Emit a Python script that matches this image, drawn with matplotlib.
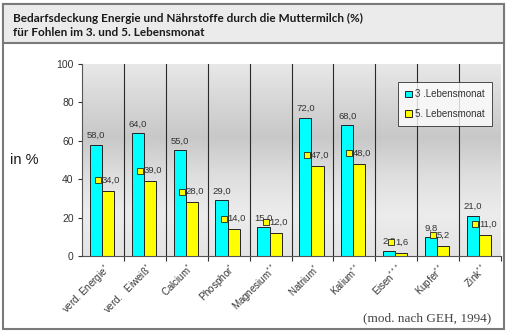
import numpy as np
import matplotlib.pyplot as plt
from matplotlib.colors import LinearSegmentedColormap
from matplotlib.patches import Rectangle

categories = [r"verd. Energie$^{*}$", r"verd.   Eiweiß$^{*}$", r"Calcium$^{*}$",
              r"Phosphor$^{*}$", r"Magnesium$^{**}$", r"Natrium$^{*}$",
              r"Kalium$^{**}$", r"Eisen$^{***}$", r"Kupfer$^{**}$", r"Zink$^{**}$"]
month3 = [58.0, 64.0, 55.0, 29.0, 15.0, 72.0, 68.0, 2.8, 9.8, 21.0]
month5 = [34.0, 39.0, 28.0, 14.0, 12.0, 47.0, 48.0, 1.6, 5.2, 11.0]
series_names = ["3 .Lebensmonat", "5. Lebensmonat"]
yticks = [0, 20, 40, 60, 80, 100]

CYAN = "#00ffff"
YELLOW = "#ffff00"
TXT = "#333333"

plt.rcParams['font.family'] = ['Liberation Sans', 'DejaVu Sans']
plt.rcParams['mathtext.fontset'] = 'custom'
plt.rcParams['mathtext.rm'] = 'Liberation Sans'

fig = plt.figure(figsize=(5.1, 3.34), dpi=100)
W, H = 510, 334

# outer frame and header band (behind the axes)
fig.patches.append(Rectangle((3 / W, 1 - 329 / H), 501 / W, 325 / H, transform=fig.transFigure,
                             facecolor='white', edgecolor='#7a7a7a', lw=1.5, zorder=-2))
fig.patches.append(Rectangle((3 / W, 1 - 43 / H), 501 / W, 39 / H, transform=fig.transFigure,
                             facecolor='#ebebeb', edgecolor='#7a7a7a', lw=1.5, zorder=-1))
fig.text(13 / W, 1 - 18 / H, "Bedarfsdeckung Energie und Nährstoffe durch die Muttermilch (%)",
         fontsize=8.5, fontweight='bold', family='Lato', va='center', color='#1a1a1a')
fig.text(13 / W, 1 - 32 / H, "für Fohlen im 3. und 5. Lebensmonat",
         fontsize=8.5, fontweight='bold', family='Lato', va='center', color='#1a1a1a')

ax = fig.add_axes([82 / W, 1 - 256 / H, 419 / W, 192 / H])
x = np.arange(len(categories))
xmin, xmax = -0.5, len(categories) - 0.5

# gradient background (bottom -> top)
cmap = LinearSegmentedColormap.from_list('bg', [
    (0.0, '#e4e4e4'), (0.22, '#ececec'), (0.42, '#dedede'),
    (0.62, '#c8c8c8'), (0.82, '#d8d8d8'), (1.0, '#e8e8e8')])
grad = np.linspace(0, 1, 256).reshape(-1, 1)
ax.imshow(grad, extent=[xmin, xmax, 0, 100], aspect='auto', cmap=cmap,
          origin='lower', zorder=0)

for b in np.arange(xmin + 1, xmax, 1.0):
    ax.axvline(b, color='#2a2a2a', lw=0.8, zorder=1)

bw = 0.29
x3 = x - 0.17
x5 = x + 0.12
ax.bar(x3, month3, bw, color=CYAN, edgecolor='#222222', lw=0.7, zorder=2, label=series_names[0])
ax.bar(x5, month5, bw, color=YELLOW, edgecolor='#222222', lw=0.7, zorder=2, label=series_names[1])

def fmt(v):
    return f"{v:.1f}".replace('.', ',')

for xi, v in zip(x3, month3):
    ax.text(xi, v + 2.5, fmt(v), ha='center', va='bottom', fontsize=6.8, color=TXT, zorder=4)
for xi, v in zip(x5, month5):
    ax.plot(xi - 0.24, v + 5.5, 's', ms=3.8, mfc=YELLOW, mec='#222222', mew=0.6, zorder=4)
    ax.text(xi - 0.15, v + 5.5, fmt(v), ha='left', va='center', fontsize=6.8, color=TXT, zorder=4)

ax.set_xlim(xmin, xmax)
ax.set_ylim(0, 100)
ax.set_yticks(yticks)
ax.set_yticklabels([str(t) for t in yticks], fontsize=7.5, color=TXT)
ax.set_xticks(np.arange(xmin + 1, xmax + 0.01, 1.0))
ax.set_xticklabels([])
ax.set_xticks(x, minor=True)
ax.set_xticklabels(categories, minor=True, rotation=45, ha='right', va='top',
                   fontsize=7, color=TXT, rotation_mode='anchor')
ax.tick_params(axis='x', which='minor', length=0, pad=4)
ax.tick_params(axis='x', which='major', length=3.5, color='#333333')
ax.tick_params(axis='y', length=3, color='#333333', pad=3)
for s in ['top', 'right']:
    ax.spines[s].set_visible(False)
ax.spines['left'].set_color('#555555')
ax.spines['bottom'].set_color('#555555')

leg = ax.legend(loc='upper right', bbox_to_anchor=(0.978, 0.906), borderaxespad=0,
                fontsize=7, frameon=True, fancybox=False, handlelength=0.7, handleheight=0.7,
                borderpad=0.75, labelspacing=1.0, handletextpad=0.3)
leg.get_frame().set_edgecolor('#222222')
leg.get_frame().set_linewidth(0.7)
for t in leg.get_texts():
    t.set_color(TXT)

fig.text(10 / W, 1 - 160 / H, "in %", fontsize=10.5, va='center', ha='left', color='#1a1a1a')
fig.text(491 / W, 1 - 318 / H, "(mod. nach GEH, 1994)", fontsize=9.5, family='Liberation Serif',
         ha='right', va='center', color='#444444')

fig.savefig('out.png', dpi=100)
